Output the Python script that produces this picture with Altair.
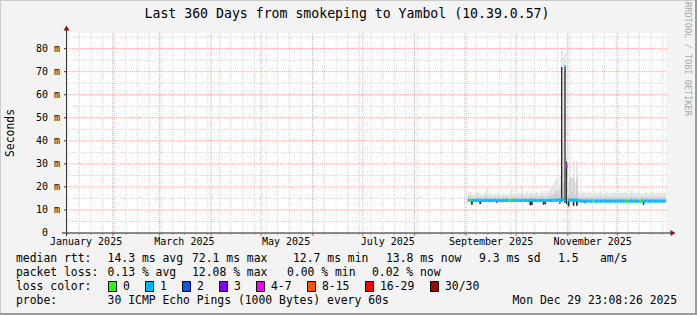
import altair as alt
import pandas as pd

# ---------------- data ----------------
TITLE = "Last 360 Days from smokeping to Yambol (10.39.0.57)"
START = "2025-01-03 23:08:26"
END = "2025-12-29 23:08:26"
FIRST_DAY = "2025-09-02"

median = [
    14.2, 14.0, 14.1, 14.1, 14.0, 14.1, 14.2, 14.1, 14.0, 14.1,
    14.1, 14.2, 14.1, 14.0, 14.1, 14.1, 14.2, 14.0, 14.1, 14.1,
    14.0, 14.1, 14.1, 14.2, 14.1, 14.0, 14.1, 14.1, 14.2, 14.1,
    14.1, 14.0, 14.1, 14.2, 14.1, 14.1, 14.0, 14.1, 14.1, 14.2,
    14.1, 14.0, 14.1, 14.1, 14.2, 14.1, 14.0, 14.1, 14.2, 14.1,
    14.2, 14.1, 14.3, 14.2, 14.4, 14.3, 14.5, 14.6, 72.1, 29.0,
    14.3, 14.2, 14.4, 14.3, 14.2, 14.3, 14.0, 13.9, 13.9, 13.8,
    13.9, 13.8, 13.9, 13.8, 13.8, 13.9, 13.8, 13.8, 13.9, 13.8,
    13.8, 13.9, 13.8, 13.8, 13.9, 13.8, 13.8, 13.9, 13.8, 13.8,
    13.9, 13.8, 13.8, 13.9, 13.8, 13.8, 13.8, 13.9, 13.8, 13.8,
    13.9, 13.8, 13.8, 13.8, 13.9, 13.8, 13.8, 13.9, 13.8, 13.8,
    13.8, 13.9, 13.8, 13.8, 13.8, 13.9, 13.8, 13.8, 13.8,
]
loss = [1] * len(median)
for d in (1, 25, 75, 95, 103):
    loss[d] = 0
loss[59] = 5

smoke_max = [
    17.5, 18.0, 17.0, 16.5, 17.0, 18.0, 17.5, 17.0, 16.5, 17.0,
    17.5, 19.5, 17.0, 17.5, 17.0, 16.5, 17.0, 17.0, 18.0, 17.0,
    16.5, 17.5, 17.0, 16.5, 17.0, 17.5, 19.5, 17.0, 17.5, 17.0,
    18.0, 17.0, 20.5, 17.5, 17.0, 18.0, 17.0, 17.5, 18.0, 17.0,
    17.5, 18.0, 17.0, 17.5, 18.5, 17.5, 18.0, 17.5, 18.5, 19.0,
    20.0, 21.0, 22.5, 24.0, 21.0, 25.0, 80.0, 76.0, 78.0, 33.0,
    22.0, 31.0, 24.0, 31.0, 22.0, 31.0, 18.0, 17.5, 17.0, 18.0,
    17.5, 17.0, 18.0, 17.5, 17.0, 17.5, 18.0, 17.0, 17.5, 18.5,
    17.5, 17.0, 17.5, 18.0, 17.0, 17.5, 17.0, 18.0, 17.5, 17.0,
    17.5, 18.0, 17.0, 17.5, 18.0, 17.5, 17.0, 17.5, 18.5, 17.5,
    17.0, 17.5, 18.0, 17.0, 17.5, 17.0, 18.0, 17.5, 17.0, 17.5,
    18.0, 17.5, 17.0, 17.5, 18.0, 17.0, 17.5, 17.0, 17.5,
]
smoke_mid = [
    15.6, 15.8, 15.5, 15.4, 15.5, 15.8, 15.6, 15.5, 15.4, 15.5,
    15.6, 16.2, 15.5, 15.6, 15.5, 15.4, 15.5, 15.5, 15.8, 15.5,
    15.4, 15.6, 15.5, 15.4, 15.5, 15.6, 16.2, 15.5, 15.6, 15.5,
    15.8, 15.5, 16.6, 15.6, 15.5, 15.8, 15.5, 15.6, 15.8, 15.5,
    15.6, 15.8, 15.5, 15.6, 16.0, 15.6, 15.8, 15.6, 16.0, 16.2,
    16.6, 17.0, 17.5, 18.5, 16.8, 19.0, 40.0, 22.0, 40.0, 24.0,
    17.0, 24.0, 18.0, 24.0, 16.5, 24.0, 15.6, 15.5, 15.4, 15.6,
    15.5, 15.4, 15.6, 15.5, 15.4, 15.5, 15.6, 15.4, 15.5, 15.8,
    15.5, 15.4, 15.5, 15.6, 15.4, 15.5, 15.4, 15.6, 15.5, 15.4,
    15.5, 15.6, 15.4, 15.5, 15.6, 15.5, 15.4, 15.5, 15.8, 15.5,
    15.4, 15.5, 15.6, 15.4, 15.5, 15.4, 15.6, 15.5, 15.4, 15.5,
    15.6, 15.5, 15.4, 15.5, 15.6, 15.4, 15.5, 15.4, 15.5,
]
dark_day = [2, 7, 17, 37, 38, 45, 46, 55, 56, 58, 59, 60, 63, 65, 70, 105]
dark_lo = [12.3, 12.5, 13.0, 12.0, 12.2, 12.3, 12.5, 12.5, 13.5, 13.0, 12.5, 11.5, 11.8, 11.8, 12.8, 12.3]
dark_hi = [14.0, 14.0, 14.0, 14.0, 14.0, 14.0, 14.0, 14.0, 72.0, 72.0, 31.0, 14.0, 14.0, 14.0, 14.0, 14.0]
dark_w = [1.0, 1.0, 0.6, 1.0, 1.0, 1.0, 1.0, 0.6, 0.75, 0.75, 0.6, 1.0, 1.0, 1.0, 0.6, 1.0]

y_ticks = [10, 20, 30, 40, 50, 60, 70, 80]
y_labels = ["10 m", "20 m", "30 m", "40 m", "50 m", "60 m", "70 m", "80 m"]
y_minor = [5, 15, 25, 35, 45, 55, 65, 75, 85]
month_labels = ["January 2025", "March 2025", "May 2025", "July 2025", "September 2025", "November 2025"]
month_label_at = ["2025-01-16", "2025-03-16", "2025-05-16", "2025-07-16", "2025-09-16", "2025-11-16"]

loss_names = ["0", "1", "2", "3", "4-7", "8-15", "16-29", "30/30"]
loss_colors = ["#26ff00", "#00b8ff", "#0059ff", "#7e00ff", "#ff00ff", "#ff5500", "#ff0000", "#a00000"]

legend_rows = [
    [("median rtt:", 16), ("14.3 ms avg", 107.6), ("72.1 ms max", 192), ("12.7 ms min", 293),
     ("13.8 ms now", 386), ("9.3 ms sd", 479), ("1.5", 558), ("am/s", 600)],
    [("packet loss:", 16), ("0.13 % avg", 107.6), ("12.08 % max", 192), ("0.00 % min", 287),
     ("0.02 % now", 372)],
    [("loss color:", 16)],
    [("probe:", 16), ("30 ICMP Echo Pings (1000 Bytes) every 60s", 107.6),
     ("Mon Dec 29 23:08:26 2025", 512.5)],
]
row_y = [259, 273, 287, 301]
swatch_x = [108, 145, 182, 219, 256, 307, 365, 430]

# ---------------- layout ----------------
L, T, W, H = 66, 33, 600, 200
MONO = "DejaVu Sans Mono"
YMAX = 86.8
DAY = 86400000


def ms(s):
    return int(pd.Timestamp(s).value // 10**6)


def loss_bin(n):
    if n <= 3:
        return loss_names[n]
    if n <= 7:
        return "4-7"
    if n <= 15:
        return "8-15"
    if n <= 29:
        return "16-29"
    return "30/30"


days = pd.date_range(FIRST_DAY, periods=len(median), freq="D")
df = pd.DataFrame({
    "t0": [ms(d) for d in days],
    "t1": [ms(d) + DAY for d in days],
    "median": median,
    "max": smoke_max,
    "mid": smoke_mid,
    "loss": [loss_bin(n) for n in loss],
})
dark = pd.DataFrame({
    "t0": [ms(days[d]) for d in dark_day],
    "t1": [ms(days[d]) + int(DAY * w) for d, w in zip(dark_day, dark_w)],
    "lo": dark_lo,
    "hi": dark_hi,
})

xs = alt.Scale(domain=[ms(START), ms(END)], nice=False, zero=False)
ys = alt.Scale(domain=[0, YMAX], nice=False, zero=False)

weeks = pd.DataFrame({"t": [ms(d) for d in pd.date_range("2025-01-05", "2025-12-28", freq="7D")]})
months = pd.DataFrame({"t": [ms(d) for d in pd.date_range("2025-02-01", "2025-12-01", freq="MS")]})
ymaj = pd.DataFrame({"v": y_ticks})
ymin = pd.DataFrame({"v": y_minor})
ylab = pd.DataFrame({"v": y_ticks, "label": y_labels})
mlab = pd.DataFrame({"t": [ms(s) for s in month_label_at], "label": month_labels})
one = pd.DataFrame({"a": [0]})

GRID = "#d4d4d4"
MGRID = "#f0a6a6"
DOT = [1, 1]

layers = []
# grid
layers.append(alt.Chart(ymin).mark_rule(color=GRID, strokeDash=DOT, strokeWidth=1).encode(
    y=alt.Y("v:Q", scale=ys, axis=None), x=alt.value(0), x2=alt.value(W + 2)))
layers.append(alt.Chart(weeks).mark_rule(color=GRID, strokeDash=DOT, strokeWidth=1).encode(
    x=alt.X("t:Q", scale=xs, axis=None), y=alt.value(0), y2=alt.value(H)))
layers.append(alt.Chart(ymaj).mark_rule(color=MGRID, strokeDash=DOT, strokeWidth=1).encode(
    y=alt.Y("v:Q", scale=ys, axis=None), x=alt.value(0), x2=alt.value(W + 2)))
layers.append(alt.Chart(months).mark_rule(color=MGRID, strokeDash=DOT, strokeWidth=1).encode(
    x=alt.X("t:Q", scale=xs, axis=None), y=alt.value(0), y2=alt.value(H)))
# x-axis ticks below axis
layers.append(alt.Chart(weeks).mark_rule(color="#bbbbbb", strokeWidth=1).encode(
    x=alt.X("t:Q", scale=xs, axis=None), y=alt.value(H), y2=alt.value(H + 2)))
layers.append(alt.Chart(months).mark_rule(color="#e07070", strokeWidth=1).encode(
    x=alt.X("t:Q", scale=xs, axis=None), y=alt.value(H), y2=alt.value(H + 3)))

# smoke
layers.append(alt.Chart(df).mark_rect(color="#e2e2e2").encode(
    x=alt.X("t0:Q", scale=xs, axis=None), x2="t1:Q",
    y=alt.Y("median:Q", scale=ys, axis=None), y2="max:Q"))
layers.append(alt.Chart(df).mark_rect(color="#cdcdcd").encode(
    x=alt.X("t0:Q", scale=xs, axis=None), x2="t1:Q",
    y=alt.Y("median:Q", scale=ys, axis=None), y2="mid:Q"))
layers.append(alt.Chart(dark).mark_rect(color="#262626").encode(
    x=alt.X("t0:Q", scale=xs, axis=None), x2="t1:Q",
    y=alt.Y("lo:Q", scale=ys, axis=None), y2="hi:Q"))
# median colored by loss
layers.append(alt.Chart(df).mark_rule(strokeWidth=3.2).encode(
    x=alt.X("t0:Q", scale=xs, axis=None), x2="t1:Q",
    y=alt.Y("median:Q", scale=ys, axis=None),
    color=alt.Color("loss:N", scale=alt.Scale(domain=loss_names, range=loss_colors), legend=None)))

# axes
layers.append(alt.Chart(one).mark_rule(color="#1a1a1a", strokeWidth=1).encode(
    x=alt.value(-4), x2=alt.value(W + 6), y=alt.value(H)))
layers.append(alt.Chart(one).mark_rule(color="#333333", strokeWidth=1).encode(
    x=alt.value(0.5), y=alt.value(H + 3), y2=alt.value(-4)))
layers.append(alt.Chart(ylab).mark_rule(color="#333333", strokeWidth=1).encode(
    y=alt.Y("v:Q", scale=ys, axis=None), x=alt.value(-2), x2=alt.value(0)))
layers.append(alt.Chart(one).mark_point(shape="triangle-right", filled=True, size=34,
                                        color="#8b1515", opacity=1).encode(
    x=alt.value(W + 7), y=alt.value(H)))
layers.append(alt.Chart(one).mark_point(shape="triangle-up", filled=True, size=34,
                                        color="#8b1515", opacity=1).encode(
    x=alt.value(0.5), y=alt.value(-5)))

# axis labels
layers.append(alt.Chart(ylab).mark_text(font=MONO, fontSize=10, align="right", baseline="middle",
                                        color="#000000").encode(
    y=alt.Y("v:Q", scale=ys, axis=None), x=alt.value(-6), text="label:N"))
layers.append(alt.Chart(one).mark_text(font=MONO, fontSize=10, align="right", baseline="middle",
                                       color="#000000").encode(
    y=alt.value(H), x=alt.value(-18), text=alt.value("0")))
layers.append(alt.Chart(mlab).mark_text(font=MONO, fontSize=10, align="center", baseline="middle",
                                        color="#000000").encode(
    x=alt.X("t:Q", scale=xs, axis=None), y=alt.value(H + 9), text="label:N"))

# titles
layers.append(alt.Chart(one).mark_text(font=MONO, fontSize=13.2, align="center", baseline="middle",
                                       color="#000000").encode(
    x=alt.value(347 - L), y=alt.value(14 - T), text=alt.value(TITLE)))
layers.append(alt.Chart(one).mark_text(font=MONO, fontSize=11.4, align="center", baseline="middle",
                                       angle=270, color="#000000").encode(
    x=alt.value(11 - L), y=alt.value(H / 2), text=alt.value("Seconds")))
layers.append(alt.Chart(one).mark_text(font=MONO, fontSize=8.6, align="center", baseline="middle",
                                       angle=90, color="#aaaaaa").encode(
    x=alt.value(688 - L), y=alt.value(59 - T), text=alt.value("RRDTOOL / TOBI OETIKER")))

# legend text
for row, yy in zip(legend_rows, row_y):
    for txt, xx in row:
        layers.append(alt.Chart(one).mark_text(font=MONO, fontSize=11.4, align="left",
                                               baseline="middle", color="#000000").encode(
            x=alt.value(xx - L), y=alt.value(yy - T), text=alt.value(txt)))
for name, col, sx in zip(loss_names, loss_colors, swatch_x):
    layers.append(alt.Chart(one).mark_rect(color=col, stroke="#000000", strokeWidth=1).encode(
        x=alt.value(sx - L + 0.5), x2=alt.value(sx - L + 8.5),
        y=alt.value(287 - T - 5.5), y2=alt.value(287 - T + 4.5)))
    layers.append(alt.Chart(one).mark_text(font=MONO, fontSize=11.4, align="left",
                                           baseline="middle", color="#000000").encode(
        x=alt.value(sx - L + 15), y=alt.value(287 - T), text=alt.value(name)))

# frame (light top/left, dark bottom/right)
layers.append(alt.Chart(one).mark_rect(color="#cbcbcb").encode(
    x=alt.value(-L), x2=alt.value(697 - L), y=alt.value(-T), y2=alt.value(-T + 1)))
layers.append(alt.Chart(one).mark_rect(color="#cbcbcb").encode(
    x=alt.value(-L), x2=alt.value(-L + 1), y=alt.value(-T), y2=alt.value(315 - T)))
layers.append(alt.Chart(one).mark_rect(color="#9c9c9c").encode(
    x=alt.value(695 - L), x2=alt.value(697 - L), y=alt.value(-T), y2=alt.value(315 - T)))
layers.append(alt.Chart(one).mark_rect(color="#9c9c9c").encode(
    x=alt.value(-L), x2=alt.value(697 - L), y=alt.value(313 - T), y2=alt.value(315 - T)))

chart = alt.layer(*layers).properties(
    width=W, height=H,
    padding={"left": L, "top": T, "right": 697 - L - W, "bottom": 315 - T - H},
    autosize=alt.AutoSizeParams(type="none"),
    background="#f3f3f3",
).configure_view(fill="#ffffff", stroke=None)

chart.save("out.html", embed_options={"renderer": "svg", "actions": False})
